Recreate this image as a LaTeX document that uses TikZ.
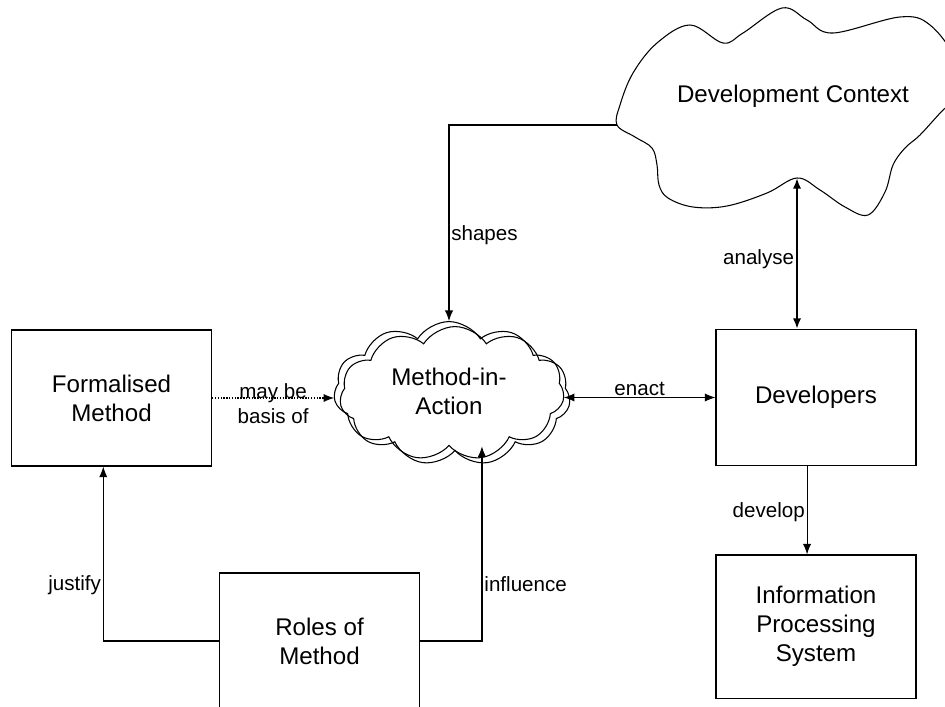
\documentclass[tikz,border=0pt]{standalone}
\usepackage{fontspec}
\setmainfont{Liberation Sans}
\usepackage{tikz}
\usetikzlibrary{arrows.meta,positioning,calc,shapes.symbols}

\begin{document}
\begin{tikzpicture}[x=0.85pt, y=-0.85pt, >={Latex[length=9pt,width=7pt]}, line width=0.9pt,
    box/.style={draw, rectangle, minimum width=170pt, minimum height=115.6pt, align=center, font=\fontsize{20.5}{24.5}\selectfont},
    mcloud/.style={draw, cloud, cloud puffs=11, cloud puff arc=115, aspect=1.6, minimum width=196pt, minimum height=118pt, inner sep=0pt, align=center, font=\fontsize{20.5}{24.5}\selectfont},
    lbl/.style={font=\fontsize{17.5}{21}\selectfont, inner sep=1.5pt}]
        \useasboundingbox (0,0) rectangle (945,706);
        \clip (0,0) rectangle (945,706);

        % Development context cloud
        \draw plot[smooth cycle, tension=0.6] coordinates {(617,125) (620,105) (633,73) (657,43) (690,25) (723,43) (743,33) (782,8) (807,20) (833,33) (900,17) (930,25) (955,60) (955,100) (943,110) (920,135) (905,148) (893,165) (885,192) (868,215) (845,207) (820,190) (797,178) (767,193) (727,206) (693,207) (668,198) (659,185) (657,165) (652,148) (635,137)};
        \coordinate (dcL) at (617,125);
        \coordinate (dcB) at (797,178);
        \node[font=\fontsize{20.5}{24.5}\selectfont] (dc) at (793,96) {Development Context};

        % Method-in-Action (drawn twice)
        \node[mcloud] (mia) at (449,391) {Method-in-\\Action};
        \node[mcloud, shape border rotate=12] (mia2) at (455,396) {};

        % boxes
        \node[box] (fm) at (111.5,398) {Formalised\\Method};
        \node[box] (dev) at (816,397.5) {Developers};
        \node[box, minimum height=121.6pt] (ips) at (816,626.5) {Information\\Processing\\System};
        \node[box] (roles) at (319.5,641) {Roles of\\Method};

        % connectors
        \draw[->] (dcL) -| (mia.north) node[lbl, right, pos=0.78] {shapes};
        \draw[->, dash pattern=on 1.2pt off 1.2pt] (fm.east) -- (fm.east -| mia.west) node[lbl, midway, align=center, yshift=-5pt] {may be\\basis of};
        \draw[<->] (dev.west -| mia.east) -- (dev.west) node[lbl, midway, above] {enact};
        \draw[<->, line width=2pt] (dcB) -- (dcB |- dev.north) node[lbl, left, pos=0.54] {analyse};
        \draw[->] ([xshift=-7.6pt]dev.south) -- ([xshift=-7.6pt]ips.north) node[lbl, left, pos=0.52] {develop};
        \draw[->] (roles.west) -| ([xshift=-7pt]fm.south) node[lbl, left, pos=0.66] {justify};
        \draw[->, line width=1.3pt] (roles.east) -| ([xshift=28pt]mia.south) node[lbl, right, pos=0.645] {influence};
    \end{tikzpicture}
\end{document}
